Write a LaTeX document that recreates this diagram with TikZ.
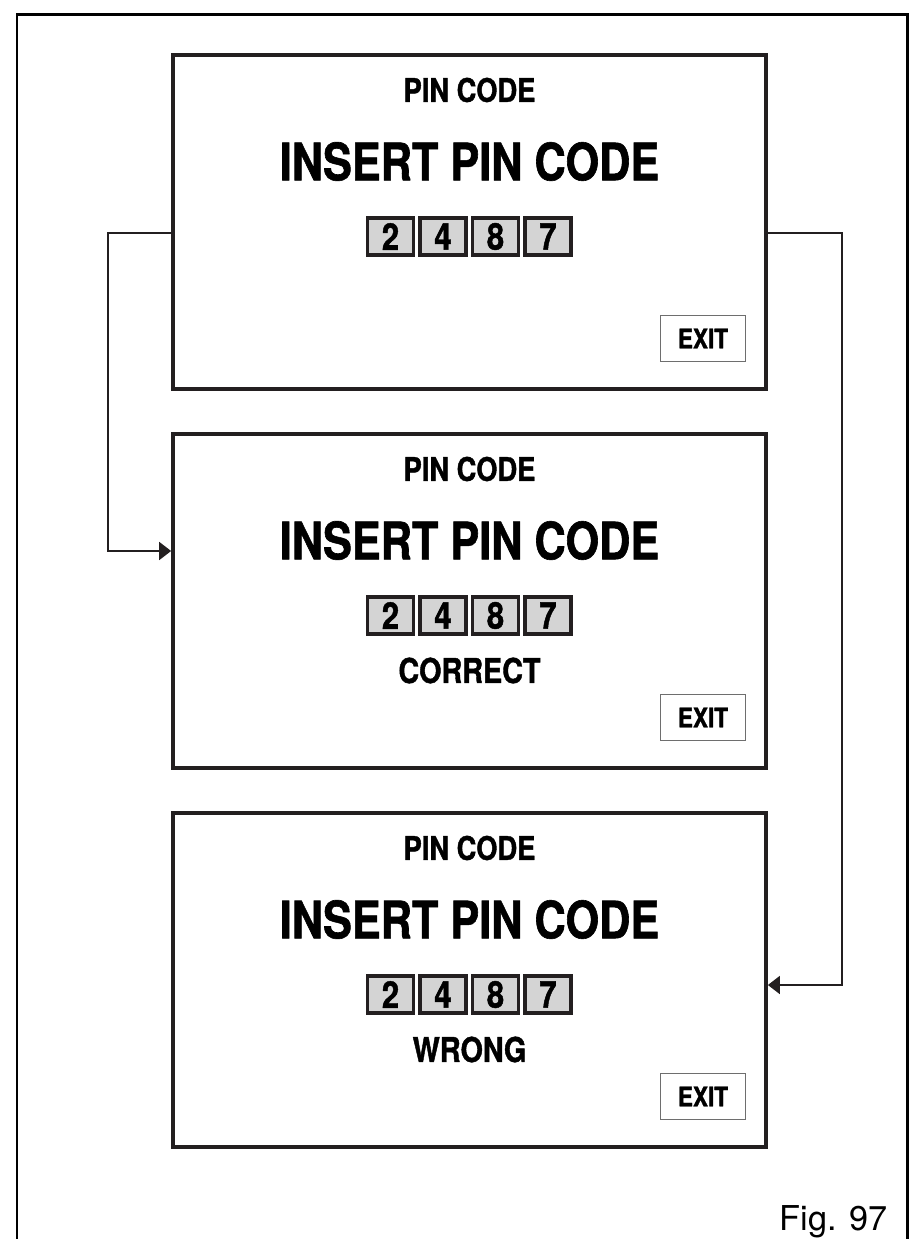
\documentclass[tikz,border=0pt]{standalone}
\usepackage{fontspec}
\setmainfont{TeX Gyre Heros}
\newfontfamily\condfont[FakeStretch=0.84, BoldFeatures={FakeBold=1.2}]{TeX Gyre Heros}
\usepackage{tikz}
\usetikzlibrary{arrows.meta,positioning}
\definecolor{frame}{RGB}{35,31,32}
\definecolor{keyfill}{RGB}{212,212,212}
\definecolor{exitline}{RGB}{110,110,110}

\begin{document}
\begin{tikzpicture}[
  x=0.02cm, y=-0.02cm,
  screen/.style={draw=frame, line width=2.2pt, minimum width=11.86cm, minimum height=6.68cm, inner sep=0pt},
  title/.style={inner sep=0pt, font=\condfont\bfseries\fontsize{18.5}{20}\selectfont},
  headline/.style={inner sep=0pt, font=\condfont\bfseries\fontsize{29.3}{31}\selectfont},
  keybox/.style={draw=frame, line width=1.8pt, fill=keyfill, minimum width=0.92cm, minimum height=0.74cm, inner sep=0pt, font=\condfont\bfseries\fontsize{21}{22}\selectfont},
  exitbox/.style={draw=exitline, line width=0.8pt, minimum width=1.69cm, minimum height=0.91cm, inner sep=0pt, font=\condfont\bfseries\fontsize{15.3}{16}\selectfont},
  link/.style={draw=frame, line width=1.1pt, -{Triangle[length=0.24cm, width=0.36cm]}}
]
\path[use as bounding box] (0,0) rectangle (913,1239);
% outer frame, open at the bottom
\draw[line width=1.7pt, black] (17,1239) -- (17,15) -- (907,15) -- (907,1239);

% the three screens
\foreach \i in {1,2,3} {
  \node[screen] (panel\i) at (469.5,{222+379*(\i-1)}) {};
  \node[title] (title\i) at (469.5,{90+379*(\i-1)}) {PIN CODE};
  \node[headline] (insert\i) at (469.5,{161.5+379*(\i-1)}) {INSERT PIN CODE};
  \foreach \j/\d in {1/2,2/4,3/8,4/7}
    \node[keybox] (key\i-\j) at ({390.5+52.5*(\j-1)},{236.5+379*(\i-1)}) {\d};
  \node[exitbox] (exit\i) at (703,{338.5+379*(\i-1)}) {EXIT};
}
\node[title, font=\condfont\bfseries\fontsize{19.5}{20}\selectfont] (status2) at (469.5,670.5) {CORRECT};
\node[title, font=\condfont\bfseries\fontsize{19.5}{20}\selectfont] (status3) at (469.5,1049.5) {WRONG};

% connectors
\coordinate (lbend) at (108,551);
\coordinate (rbend) at (842,985);
\draw[link] ([yshift=-0.22cm]panel1.west) -| (lbend) -- (panel2.west |- lbend);
\draw[link] ([yshift=-0.22cm]panel1.east) -| (rbend) -- (panel3.east |- rbend);

\node[anchor=base east, inner sep=0pt, font=\fontsize{19.5}{20}\selectfont] (figlabel) at (888,1230) {Fig. 97};
\end{tikzpicture}
\end{document}
